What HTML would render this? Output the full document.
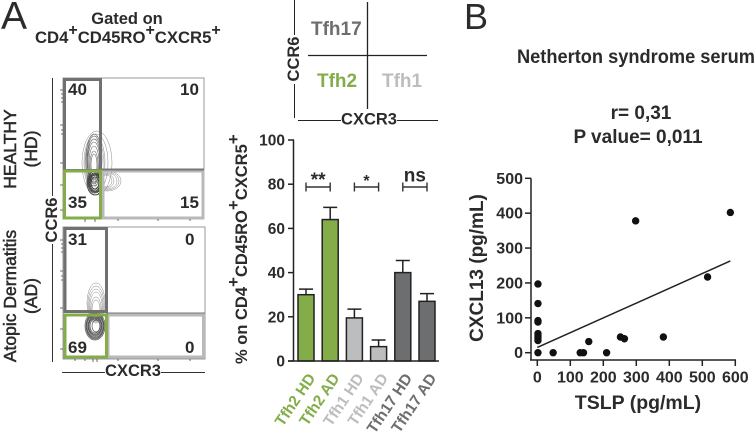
<!DOCTYPE html>
<html>
<head>
<meta charset="utf-8">
<style>
html,body{margin:0;padding:0;background:#fff;width:756px;height:433px;overflow:hidden}
svg{display:block;font-family:"Liberation Sans",sans-serif;font-weight:bold;fill:#2b2b2b;filter:blur(0.3px)}
</style>
</head>
<body>
<svg id="fig" width="756" height="433" viewBox="0 0 756 433" xmlns="http://www.w3.org/2000/svg">
  <text x="1" y="29" font-size="39" font-weight="normal">A</text>
  <text x="464" y="29" font-size="36" font-weight="normal">B</text>
  <text x="127" y="24" font-size="16.5" text-anchor="middle">Gated on</text>
  <text x="35" y="43" font-size="16.7">CD4<tspan dy="-8" font-size="16">+</tspan><tspan dy="8">CD45RO</tspan><tspan dy="-8" font-size="16">+</tspan><tspan dy="8">CXCR5</tspan><tspan dy="-8" font-size="16">+</tspan></text>

  <!-- Flow plot: healthy -->
  <g>
    <rect x="63" y="78" width="141" height="141" fill="none" stroke="#999" stroke-width="1"/>
    <g fill="none" stroke="#888" stroke-width="0.5">
      <ellipse cx="97" cy="163" rx="15" ry="32"/><ellipse cx="96" cy="163" rx="12" ry="29"/><ellipse cx="95" cy="163" rx="10" ry="27"/><ellipse cx="95" cy="164" rx="9" ry="25"/>
      <g stroke="#666" stroke-width="0.6"><ellipse cx="94" cy="160" rx="8" ry="26"/><ellipse cx="94" cy="160" rx="7" ry="24"/><ellipse cx="94" cy="161" rx="6.500" ry="22"/><ellipse cx="94" cy="162" rx="6" ry="20"/><ellipse cx="94" cy="163" rx="5" ry="17"/><ellipse cx="94" cy="165" rx="4" ry="14"/><ellipse cx="94" cy="165" rx="3" ry="11"/></g>
      <ellipse cx="107" cy="181" rx="14" ry="10"/><ellipse cx="107" cy="181" rx="12" ry="9"/><ellipse cx="107" cy="181" rx="10" ry="8"/><ellipse cx="106" cy="181" rx="8" ry="7"/><ellipse cx="106" cy="181" rx="6" ry="6"/>
      <g stroke="#333" stroke-width="0.8"><ellipse cx="95" cy="183" rx="8" ry="12"/><ellipse cx="95" cy="183" rx="7" ry="10"/><ellipse cx="95" cy="183" rx="6" ry="9"/><ellipse cx="95" cy="183" rx="5" ry="8"/><ellipse cx="95" cy="183" rx="4" ry="6"/></g>
    </g>
    <rect x="64.500" y="79.500" width="36" height="91" fill="none" stroke="#717171" stroke-width="3"/>
    <rect x="103" y="171" width="100" height="47" fill="none" stroke="#b9b9b9" stroke-width="3"/>
    <line x1="100" y1="169.500" x2="204" y2="169.500" stroke="#777" stroke-width="2"/>
    <rect x="64.500" y="171" width="36" height="47" fill="none" stroke="#84ad4a" stroke-width="3"/>
    <text x="68" y="95" font-size="17">40</text>
    <text x="180" y="95" font-size="17">10</text>
    <text x="68" y="208" font-size="17">35</text>
    <text x="180" y="208" font-size="17">15</text>
    <path d="M60 90h3M61 94h2M61 98h2M61 102h2M60 125h3M61 130h2M61 134h2M60 163h3M60 185h3M60 210h3M85 219v3M95 219v3M118 219v2M158 219v2M190 219v2" stroke="#444" stroke-width="0.8" fill="none"/>
  </g>

  <!-- Flow plot: atopic dermatitis -->
  <g>
    <rect x="63" y="227" width="142" height="132" fill="none" stroke="#999" stroke-width="1"/>
    <g fill="none" stroke="#888" stroke-width="0.5">
      <ellipse cx="96" cy="303" rx="9" ry="20"/><ellipse cx="96" cy="304" rx="8" ry="18"/><ellipse cx="96" cy="305" rx="7" ry="16"/><ellipse cx="96" cy="306" rx="6" ry="14"/><ellipse cx="96" cy="308" rx="5" ry="11"/><ellipse cx="96" cy="309" rx="4" ry="9"/>
      <g stroke="#555" stroke-width="0.7"><ellipse cx="95" cy="326" rx="10" ry="14"/><ellipse cx="95" cy="326" rx="9" ry="13"/><ellipse cx="95" cy="326" rx="8.500" ry="12"/><ellipse cx="95" cy="326" rx="8" ry="11"/><ellipse cx="95" cy="326" rx="7" ry="10"/><ellipse cx="95" cy="326" rx="6.500" ry="9"/><ellipse cx="95" cy="326" rx="6" ry="8"/><ellipse cx="95" cy="326" rx="5" ry="7"/><ellipse cx="96" cy="326" rx="4" ry="6"/></g>
    </g>
    <rect x="65" y="228.500" width="41.500" height="83" fill="none" stroke="#717171" stroke-width="3"/>
    <rect x="108" y="315" width="95.500" height="42" fill="none" stroke="#b9b9b9" stroke-width="3"/>
    <line x1="106" y1="313" x2="205" y2="313" stroke="#777" stroke-width="1"/>
    <rect x="65" y="315" width="41.500" height="42" fill="none" stroke="#84ad4a" stroke-width="3"/>
    <text x="68" y="245" font-size="17">31</text>
    <text x="185" y="245" font-size="17">0</text>
    <text x="68" y="353" font-size="17">69</text>
    <text x="185" y="353" font-size="17">0</text>
    <path d="M60 240h3M61 244h2M61 248h2M61 252h2M60 271h3M61 276h2M61 280h2M60 308h3M60 329h3M60 349h3M93 359v3M97 359v3M75 359v2M85 359v2M118 359v2M158 359v2M190 359v2" stroke="#444" stroke-width="0.8" fill="none"/>
  </g>

  <line x1="52.500" y1="78" x2="52.500" y2="196" stroke="#333" stroke-width="1"/>
  <line x1="52.500" y1="244" x2="52.500" y2="362" stroke="#333" stroke-width="1"/>
  <text transform="translate(57 220) rotate(-90)" font-size="16.500" text-anchor="middle">CCR6</text>
  <line x1="62" y1="372.500" x2="105" y2="372.500" stroke="#333" stroke-width="1"/>
  <line x1="161" y1="372.500" x2="205" y2="372.500" stroke="#333" stroke-width="1"/>
  <text x="133" y="376" font-size="16.500" text-anchor="middle">CXCR3</text>
  <text transform="translate(16 149) rotate(-90)" font-size="17.500" font-weight="normal" stroke="#2b2b2b" stroke-width="0.5" text-anchor="middle">HEALTHY</text>
  <text transform="translate(37 149) rotate(-90)" font-size="17.500" font-weight="normal" stroke="#2b2b2b" stroke-width="0.5" text-anchor="middle">(HD)</text>
  <text transform="translate(16 296) rotate(-90)" font-size="17.500" font-weight="normal" stroke="#2b2b2b" stroke-width="0.5" text-anchor="middle">Atopic Dermatitis</text>
  <text transform="translate(37 296) rotate(-90)" font-size="17.500" font-weight="normal" stroke="#2b2b2b" stroke-width="0.5" text-anchor="middle">(AD)</text>

  <!-- Quadrant legend -->
  <g>
    <line x1="367.500" y1="2" x2="367.500" y2="109" stroke="#222" stroke-width="1.300"/>
    <line x1="308" y1="55.500" x2="427" y2="55.500" stroke="#222" stroke-width="1.300"/>
    <line x1="294.500" y1="0" x2="294.500" y2="35" stroke="#222"/>
    <line x1="294.500" y1="84" x2="294.500" y2="118" stroke="#222"/>
    <text transform="translate(299 59) rotate(-90)" font-size="16.500" text-anchor="middle">CCR6</text>
    <line x1="298" y1="120.500" x2="341" y2="120.500" stroke="#222"/>
    <line x1="397" y1="120.500" x2="438" y2="120.500" stroke="#222"/>
    <text x="369" y="124.500" font-size="16.500" text-anchor="middle">CXCR3</text>
    <text x="311" y="35" font-size="19" fill="#6d6e70">Tfh17</text>
    <text x="317" y="87" font-size="19" fill="#84ad4a">Tfh2</text>
    <text x="382" y="87" font-size="19" fill="#bdbdbd">Tfh1</text>
  </g>

  <text transform="translate(247 364) rotate(-90)" font-size="16.500">% on CD4<tspan dy="-8" font-size="17">+</tspan><tspan dy="8">CD45RO</tspan><tspan dy="-8" font-size="17">+</tspan><tspan dy="8">CXCR5</tspan><tspan dy="-8" font-size="17">+</tspan></text>
  <g id="bars"></g>

  <text x="517" y="63" font-size="19" textLength="238" lengthAdjust="spacingAndGlyphs">Netherton syndrome serum</text>
  <text x="641" y="119" font-size="19" text-anchor="middle">r= 0,31</text>
  <text x="638" y="143" font-size="19" text-anchor="middle">P value= 0,011</text>
  <g id="scatter"></g>
</svg>
<script>
var barCategories = ['Tfh2 HD','Tfh2 AD','Tfh1 HD','Tfh1 AD','Tfh17 HD','Tfh17 AD'];
var barValues = [30, 64, 19.5, 6.5, 40, 27];
var barErrors = [2.5, 5.5, 4, 3, 5.5, 3.5];
var barColors = ['#84ad4a','#84ad4a','#bcbdbf','#bcbdbf','#6d6e70','#6d6e70'];
var barTicks = [0, 20, 40, 60, 80, 100];
var sigLabels = ['**','*','ns'];

var scatterX = [2,2,2,2,2,2,2,2,2,48,130,140,156,210,252,264,298,382,516,585];
var scatterY = [197,141,92,88,55,48,42,35,0,0,0,0,32,0,45,40,378,45,217,402];
var scatterXTicks = [0,100,200,300,400,500,600];
var scatterYTicks = [0,100,200,300,400,500];
var fitX = [0, 585];
var fitY = [15, 263];

var NS = 'http://www.w3.org/2000/svg';
function mk(tag, parent, attrs, txt) {
  var e = document.createElementNS(NS, tag);
  for (var k in attrs) e.setAttribute(k, attrs[k]);
  if (txt !== undefined) e.textContent = txt;
  parent.appendChild(e);
  return e;
}
function barY(v) { return 361 - v * 2.21; }
function barX(i) { return 306 + i * 24.2; }
function scX(v) { return 537.3 + v * 0.33; }
function scY(v) { return 352.7 - v * 0.3488; }

var bg = document.getElementById('bars');
barCategories.forEach(function (c, i) {
  var x = barX(i), y = barY(barValues[i]), top = barY(barValues[i] + barErrors[i]);
  var err = mk('path', bg, {d: 'M' + x + ' ' + y + 'V' + top + 'M' + (x - 7) + ' ' + top + 'H' + (x + 7), stroke: '#222', 'stroke-width': 1.5, fill: 'none'});
  
  
  var r = mk('rect', bg, {x: x - 8, y: y, width: 16, height: barY(0) - y, fill: barColors[i], stroke: '#222', 'stroke-width': 1.5});
  
  
  var t = mk('text', bg, {transform: 'translate(' + (x + 10) + ' 378) rotate(-56)', 'text-anchor': 'end', 'font-size': 15.5, fill: barColors[i]}, c);
  
  
});
barTicks.forEach(function (v) {
  var y = barY(v);
  var l = mk('line', bg, {x1: 288, x2: 294, y1: y, y2: y, stroke: '#222', 'stroke-width': 1.5});
  
  
  var t = mk('text', bg, {x: 285, y: y + 5.5, 'text-anchor': 'end', 'font-size': 15.5}, v);
  
  
});
var bya = mk('line', bg, {x1: 293.5, x2: 293.5, y1: barY(100), y2: barY(0), stroke: '#222', 'stroke-width': 1.5});


var bxa = mk('line', bg, {x1: 288, x2: 439, y1: barY(0), y2: barY(0), stroke: '#222', 'stroke-width': 1.5});


sigLabels.forEach(function (s, i) {
  var x1 = barX(i * 2), x2 = barX(i * 2 + 1), y = 187;
  var b = mk('path', bg, {d: 'M' + x1 + ' ' + (y - 4.5) + 'v9M' + x1 + ' ' + y + 'H' + x2 + 'M' + x2 + ' ' + (y - 4.5) + 'v9', stroke: '#333', 'stroke-width': 1.4, fill: 'none'});
  
  
  var isNs = s === 'ns';
  var t = mk('text', bg, {x: (x1 + x2) / 2, y: isNs ? 181.5 : 186, 'text-anchor': 'middle', 'font-size': isNs ? 19 : (s.length > 1 ? 19 : 16)}, s);
  
  
});

var sg = document.getElementById('scatter');
var sya = mk('line', sg, {x1: 531, x2: 531, y1: scY(500), y2: 360, stroke: '#222', 'stroke-width': 1.5});


var sxa = mk('line', sg, {x1: 530, x2: scX(600) + 0.7, y1: 360, y2: 360, stroke: '#222', 'stroke-width': 1.5});


scatterYTicks.forEach(function (v) {
  var y = scY(v);
  var l = mk('line', sg, {x1: 525, x2: 531, y1: y, y2: y, stroke: '#222', 'stroke-width': 1.5});
  
  
  var t = mk('text', sg, {x: 523, y: y + 5.5, 'text-anchor': 'end', 'font-size': 16}, v);
  
  
});
scatterXTicks.forEach(function (v) {
  var x = scX(v);
  var l = mk('line', sg, {x1: x, x2: x, y1: 360, y2: 366, stroke: '#222', 'stroke-width': 1.5});
  
  
  var t = mk('text', sg, {x: x, y: 382.5, 'text-anchor': 'middle', 'font-size': 16}, v);
  
  
});
var fit = mk('line', sg, {x1: scX(fitX[0]), y1: scY(fitY[0]), x2: scX(fitX[1]), y2: scY(fitY[1]), stroke: '#222', 'stroke-width': 1.5});


scatterX.forEach(function (v, i) {
  var c = mk('circle', sg, {cx: scX(v), cy: scY(scatterY[i]), r: 3.7, fill: '#111'});
  
  
});
var sxt = mk('text', sg, {x: 638, y: 409, 'text-anchor': 'middle', 'font-size': 19.5}, 'TSLP (pg/mL)');


var syt = mk('text', sg, {transform: 'translate(483 268) rotate(-90)', 'text-anchor': 'middle', 'font-size': 19}, 'CXCL13 (pg/mL)');


</script>
</body>
</html>
